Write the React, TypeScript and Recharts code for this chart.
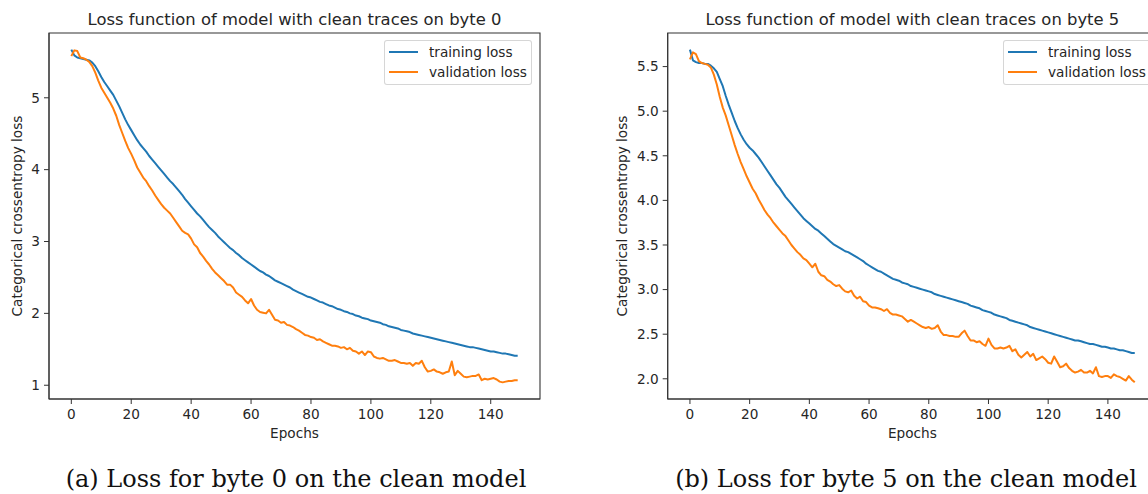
import { LineChart, Line, XAxis, YAxis, ReferenceArea, Legend } from "recharts";

// Categorical crossentropy per epoch (0..149), byte 0
const trainLossByte0 = [
  5.67, 5.59, 5.56, 5.55, 5.54, 5.53, 5.52, 5.49, 5.44, 5.37,
  5.29, 5.22, 5.16, 5.10, 5.04, 4.96, 4.88, 4.79, 4.70, 4.62,
  4.55, 4.48, 4.41, 4.35, 4.30, 4.25, 4.19, 4.14, 4.09, 4.04,
  3.99, 3.94, 3.89, 3.84, 3.80, 3.75, 3.70, 3.65, 3.59, 3.54,
  3.49, 3.44, 3.39, 3.35, 3.30, 3.25, 3.20, 3.16, 3.12, 3.07,
  3.03, 2.99, 2.95, 2.91, 2.88, 2.84, 2.81, 2.77, 2.74, 2.71,
  2.68, 2.65, 2.62, 2.59, 2.57, 2.54, 2.52, 2.49, 2.46, 2.44,
  2.42, 2.40, 2.38, 2.36, 2.33, 2.31, 2.29, 2.27, 2.25, 2.23,
  2.22, 2.20, 2.18, 2.16, 2.15, 2.13, 2.11, 2.10, 2.08, 2.06,
  2.05, 2.03, 2.02, 2.00, 1.99, 1.97, 1.96, 1.94, 1.93, 1.92,
  1.90, 1.89, 1.88, 1.87, 1.85, 1.84, 1.82, 1.81, 1.80, 1.79,
  1.77, 1.76, 1.75, 1.74, 1.72, 1.71, 1.70, 1.69, 1.68, 1.67,
  1.66, 1.65, 1.64, 1.63, 1.62, 1.61, 1.60, 1.59, 1.58, 1.57,
  1.56, 1.55, 1.54, 1.53, 1.53, 1.52, 1.51, 1.50, 1.49, 1.48,
  1.47, 1.47, 1.46, 1.45, 1.44, 1.44, 1.43, 1.42, 1.41, 1.41,
];

const valLossByte0 = [
  5.58, 5.66, 5.65, 5.56, 5.55, 5.53, 5.50, 5.44, 5.35, 5.24,
  5.14, 5.07, 5.00, 4.93, 4.85, 4.75, 4.62, 4.51, 4.40, 4.30,
  4.22, 4.13, 4.03, 3.96, 3.89, 3.84, 3.77, 3.71, 3.64, 3.58,
  3.52, 3.47, 3.43, 3.39, 3.33, 3.27, 3.21, 3.15, 3.12, 3.10,
  3.04, 2.96, 2.92, 2.84, 2.79, 2.73, 2.68, 2.62, 2.57, 2.53,
  2.49, 2.45, 2.40, 2.40, 2.36, 2.29, 2.26, 2.23, 2.18, 2.14,
  2.20, 2.11, 2.05, 2.02, 2.01, 2.00, 2.05, 1.98, 1.91, 1.90,
  1.87, 1.88, 1.84, 1.83, 1.81, 1.78, 1.76, 1.73, 1.70, 1.69,
  1.67, 1.66, 1.63, 1.64, 1.61, 1.59, 1.57, 1.55, 1.55, 1.54,
  1.52, 1.53, 1.50, 1.52, 1.48, 1.47, 1.44, 1.47, 1.42, 1.47,
  1.46, 1.40, 1.38, 1.37, 1.38, 1.36, 1.34, 1.34, 1.35, 1.33,
  1.31, 1.31, 1.30, 1.31, 1.27, 1.31, 1.30, 1.34, 1.25, 1.19,
  1.20, 1.22, 1.19, 1.18, 1.16, 1.18, 1.19, 1.33, 1.14, 1.20,
  1.16, 1.12, 1.11, 1.12, 1.13, 1.13, 1.15, 1.07, 1.09, 1.08,
  1.09, 1.10, 1.08, 1.05, 1.04, 1.05, 1.06, 1.06, 1.07, 1.07,
];

// Categorical crossentropy per epoch (0..149), byte 5
const trainLossByte5 = [
  5.69, 5.57, 5.55, 5.54, 5.54, 5.53, 5.53, 5.51, 5.48, 5.44,
  5.36, 5.28, 5.17, 5.07, 4.98, 4.89, 4.81, 4.74, 4.68, 4.63,
  4.59, 4.56, 4.52, 4.48, 4.43, 4.38, 4.33, 4.28, 4.23, 4.18,
  4.14, 4.09, 4.04, 4.00, 3.96, 3.92, 3.88, 3.84, 3.80, 3.77,
  3.74, 3.71, 3.68, 3.66, 3.63, 3.60, 3.57, 3.54, 3.51, 3.49,
  3.47, 3.45, 3.43, 3.42, 3.40, 3.38, 3.36, 3.34, 3.32, 3.29,
  3.27, 3.25, 3.23, 3.21, 3.20, 3.18, 3.16, 3.14, 3.12, 3.11,
  3.10, 3.08, 3.07, 3.06, 3.04, 3.03, 3.02, 3.01, 3.00, 2.99,
  2.98, 2.97, 2.95, 2.94, 2.93, 2.92, 2.91, 2.90, 2.89, 2.88,
  2.87, 2.86, 2.85, 2.84, 2.82, 2.81, 2.80, 2.79, 2.77, 2.76,
  2.75, 2.74, 2.72, 2.71, 2.70, 2.69, 2.68, 2.66, 2.65, 2.64,
  2.63, 2.62, 2.61, 2.60, 2.58, 2.57, 2.56, 2.55, 2.54, 2.53,
  2.52, 2.51, 2.50, 2.49, 2.48, 2.47, 2.46, 2.45, 2.44, 2.43,
  2.43, 2.42, 2.41, 2.40, 2.39, 2.39, 2.38, 2.37, 2.36, 2.36,
  2.35, 2.34, 2.34, 2.33, 2.32, 2.32, 2.31, 2.30, 2.29, 2.29,
];

const valLossByte5 = [
  5.58, 5.66, 5.64, 5.56, 5.54, 5.53, 5.52, 5.49, 5.41, 5.30,
  5.16, 5.04, 4.95, 4.84, 4.73, 4.62, 4.52, 4.43, 4.35, 4.27,
  4.20, 4.13, 4.08, 4.01, 3.95, 3.89, 3.84, 3.80, 3.75, 3.71,
  3.67, 3.63, 3.60, 3.55, 3.50, 3.46, 3.42, 3.39, 3.35, 3.33,
  3.29, 3.25, 3.29, 3.20, 3.16, 3.15, 3.11, 3.09, 3.06, 3.04,
  3.05, 3.01, 2.98, 2.97, 2.99, 2.93, 2.90, 2.92, 2.87, 2.86,
  2.82, 2.80, 2.80, 2.79, 2.78, 2.76, 2.78, 2.74, 2.72, 2.72,
  2.71, 2.70, 2.67, 2.64, 2.66, 2.64, 2.62, 2.60, 2.58, 2.57,
  2.58, 2.56, 2.57, 2.60, 2.53, 2.49, 2.49, 2.48, 2.48, 2.47,
  2.47, 2.51, 2.54, 2.48, 2.43, 2.43, 2.41, 2.42, 2.39, 2.37,
  2.45, 2.38, 2.34, 2.34, 2.35, 2.34, 2.35, 2.37, 2.31, 2.33,
  2.27, 2.24, 2.27, 2.30, 2.25, 2.28, 2.21, 2.23, 2.25, 2.22,
  2.18, 2.17, 2.25, 2.19, 2.13, 2.14, 2.17, 2.12, 2.09, 2.07,
  2.08, 2.10, 2.07, 2.07, 2.09, 2.06, 2.13, 2.03, 2.02, 2.03,
  2.03, 2.01, 2.05, 2.03, 2.02, 2.00, 1.98, 2.03, 1.99, 1.96,
];

const epochTicks = [0, 20, 40, 60, 80, 100, 120, 140];
const lossTicksByte0 = [1, 2, 3, 4, 5];
const lossTicksByte5 = [2.0, 2.5, 3.0, 3.5, 4.0, 4.5, 5.0, 5.5];

const SANS = "'DejaVu Sans', sans-serif";
const INK = "#262626";
const BLUE = "#1f77b4";
const ORANGE = "#ff7f0e";

// matplotlib-style autoscale: 5% margin on each side
function padded(min: number, max: number): [number, number] {
  const m = (max - min) * 0.05;
  return [min - m, max + m];
}

function LossLegend({ payload }: any) {
  return (
    <div
      style={{
        width: 148,
        height: 45,
        boxSizing: "border-box",
        border: "1px solid rgba(204,204,204,0.8)",
        borderRadius: 3,
        background: "rgba(255,255,255,0.8)",
        position: "relative",
        fontFamily: SANS,
        fontSize: 13.65,
        color: INK,
      }}
    >
      {(payload || []).map((p: any, i: number) => (
        <div
          key={p.value}
          style={{
            position: "absolute",
            left: 3,
            top: 3 + i * 20,
            height: 16,
            display: "flex",
            alignItems: "center",
          }}
        >
          <svg width={30} height={16}>
            <line x1={1} x2={30} y1={8} y2={8} stroke={p.color} strokeWidth={2} />
          </svg>
          <span style={{ marginLeft: 11, lineHeight: "16px", whiteSpace: "nowrap" }}>
            {p.value}
          </span>
        </div>
      ))}
    </div>
  );
}

interface PanelProps {
  left: number;
  width: number;
  train: number[];
  val: number[];
  yTicks: number[];
  yFormat: (v: number) => string;
  yAxisWidth: number;
  marginRight: number;
  legendLeft: number;
  yLabelX: number;
  title: string;
  caption: string;
  captionX: number;
}

function LossPanel(props: PanelProps) {
  const { train, val, yAxisWidth, marginRight, width } = props;
  const data = train.map((t, i) => ({ epoch: i, train: t, val: val[i] }));
  const xDomain = padded(0, train.length - 1);
  const all = [...train, ...val];
  const yDomain = padded(Math.min(...all), Math.max(...all));
  const plotCenter = (yAxisWidth + width - marginRight) / 2;

  return (
    <div style={{ position: "absolute", left: props.left, top: 0, width, height: 494 }}>
      <LineChart
        width={width}
        height={440}
        data={data}
        margin={{ top: 33, right: marginRight, bottom: 11, left: 0 }}
      >
        <XAxis
          type="number"
          dataKey="epoch"
          domain={xDomain}
          ticks={epochTicks}
          allowDataOverflow
          height={30}
          tickSize={5}
          tickMargin={5}
          stroke="#333"
          tick={{ fill: INK, fontSize: 13.65, fontFamily: SANS }}
        />
        <YAxis
          type="number"
          domain={yDomain}
          ticks={props.yTicks}
          allowDataOverflow
          width={yAxisWidth}
          tickSize={5}
          tickMargin={4}
          stroke="#333"
          tickFormatter={props.yFormat}
          tick={{ fill: INK, fontSize: 13.65, fontFamily: SANS }}
        />
        <ReferenceArea
          x1={xDomain[0]}
          x2={xDomain[1]}
          y1={yDomain[0]}
          y2={yDomain[1]}
          fill="none"
          stroke="#333"
          strokeWidth={1.1}
          ifOverflow="visible"
        />
        <Legend
          layout="vertical"
          align="center"
          verticalAlign="middle"
          wrapperStyle={{ left: props.legendLeft, top: 40, width: 148, height: 45 }}
          content={<LossLegend />}
        />
        <Line
          dataKey="train"
          name="training loss"
          stroke={BLUE}
          strokeWidth={2}
          strokeLinejoin="round"
          dot={false}
          activeDot={false}
          isAnimationActive={false}
        />
        <Line
          dataKey="val"
          name="validation loss"
          stroke={ORANGE}
          strokeWidth={2}
          strokeLinejoin="round"
          dot={false}
          activeDot={false}
          isAnimationActive={false}
        />
      </LineChart>
      <svg
        width={width}
        height={494}
        style={{ position: "absolute", left: 0, top: 0, pointerEvents: "none" }}
      >
        <text x={plotCenter} y={25} textAnchor="middle" fontFamily={SANS} fontSize={16.4} fill={INK}>
          {props.title}
        </text>
        <text x={plotCenter} y={438} textAnchor="middle" fontFamily={SANS} fontSize={13.65} fill={INK}>
          Epochs
        </text>
        <text
          x={props.yLabelX}
          y={216}
          transform={`rotate(-90 ${props.yLabelX} 216)`}
          textAnchor="middle"
          fontFamily={SANS}
          fontSize={13.65}
          fill={INK}
        >
          Categorical crossentropy loss
        </text>
        <text
          x={props.captionX}
          y={487}
          textAnchor="middle"
          fontFamily="'DejaVu Serif', serif"
          fontSize={24}
          fill="#111"
        >
          {props.caption}
        </text>
      </svg>
    </div>
  );
}

export default function App() {
  return (
    <div
      style={{
        position: "absolute",
        left: 0,
        top: 0,
        width: 1148,
        height: 494,
        overflow: "hidden",
        background: "#fff",
      }}
    >
      <LossPanel
        left={0}
        width={560}
        train={trainLossByte0}
        val={valLossByte0}
        yTicks={lossTicksByte0}
        yFormat={(v) => String(v)}
        yAxisWidth={49}
        marginRight={20}
        legendLeft={384}
        yLabelX={21.7}
        title="Loss function of model with clean traces on byte 0"
        caption="(a) Loss for byte 0 on the clean model"
        captionX={296}
      />
      <LossPanel
        left={600}
        width={600}
        train={trainLossByte5}
        val={valLossByte5}
        yTicks={lossTicksByte5}
        yFormat={(v) => v.toFixed(1)}
        yAxisWidth={67.7}
        marginRight={43}
        legendLeft={403}
        yLabelX={26.5}
        title="Loss function of model with clean traces on byte 5"
        caption="(b) Loss for byte 5 on the clean model"
        captionX={306}
      />
    </div>
  );
}
